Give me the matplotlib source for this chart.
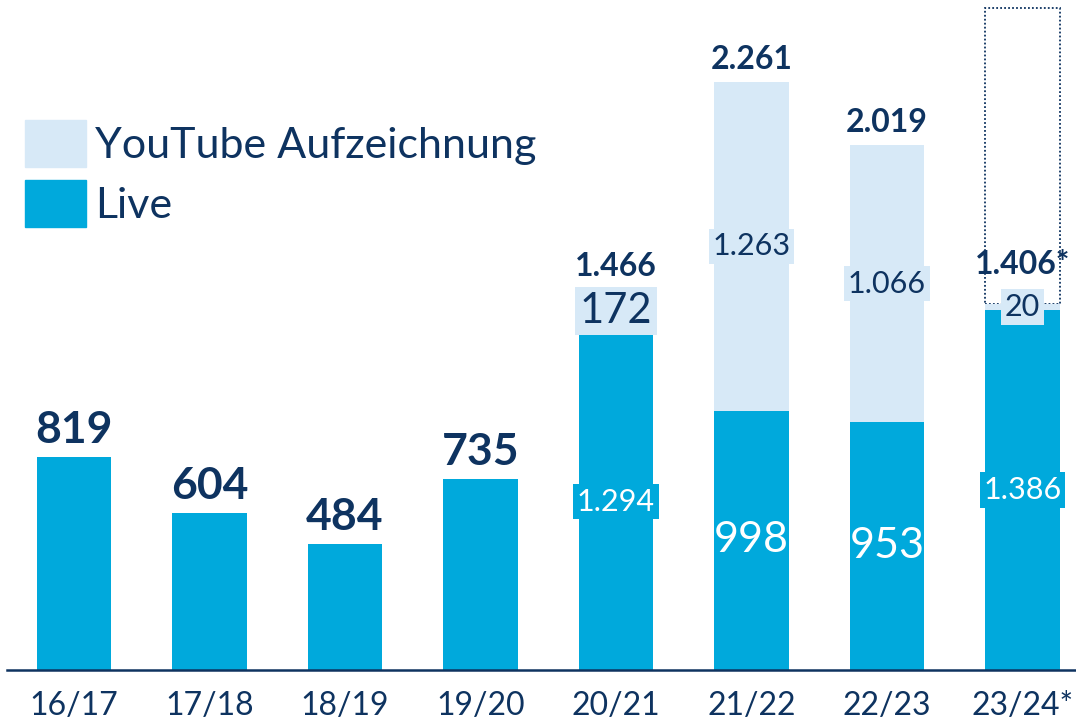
import matplotlib
matplotlib.use('Agg')
import numpy as np
import matplotlib.pyplot as plt
from matplotlib.patches import Patch

# data
seasons = ['16/17', '17/18', '18/19', '19/20', '20/21', '21/22', '22/23', '23/24*']
live = [819, 604, 484, 735, 1294, 998, 953, 1386]
youtube = [0, 0, 0, 0, 172, 1263, 1066, 20]
total_labels = ['819', '604', '484', '735', '1.466', '2.261', '2.019', '1.406*']
live_labels = ['', '', '', '', '1.294', '998', '953', '1.386']
yt_labels = ['', '', '', '', '172', '1.263', '1.066', '20']
expected_2324 = 2546   # dotted outline above the current season

LIVE_C = '#00A9DC'
YT_C = '#D7E9F7'
NAVY = '#0E3360'

plt.rcParams['font.family'] = ['Lato', 'DejaVu Sans']

fig = plt.figure(figsize=(10.76, 7.21), dpi=100)
ax = fig.add_axes([0.0065, 0.0707, 0.9935, 0.9293])

x = np.arange(len(seasons))
w = 0.55
live = np.array(live)
youtube = np.array(youtube)
tot = live + youtube

ax.bar(x, live, w, color=LIVE_C, zorder=2)
ax.bar(x, youtube, w, bottom=live, color=YT_C, zorder=2)
# dotted outline for the running season
ax.bar(x[-1], expected_2324 - tot[-1], w, bottom=tot[-1], fill=False,
       edgecolor=NAVY, linestyle=(0, (1, 1.2)), linewidth=1.3, zorder=1)

# value labels
for i in range(len(seasons)):
    if youtube[i] == 0:
        ax.annotate(total_labels[i], (x[i], tot[i]), xytext=(0, 5),
                    textcoords='offset points', ha='center', va='bottom',
                    fontsize=32, fontweight='bold', color=NAVY)
        continue
    off = 18 if i == len(seasons) - 1 else 6
    ax.annotate(total_labels[i], (x[i], tot[i]), xytext=(0, off),
                textcoords='offset points', ha='center', va='bottom',
                fontsize=23, fontweight='bold', color=NAVY)
    # live segment label
    if len(live_labels[i]) == 3:
        ax.text(x[i], live[i] / 2, live_labels[i], ha='center', va='center',
                fontsize=31, color='white', zorder=3)
    else:
        ax.text(x[i], live[i] / 2, live_labels[i], ha='center', va='center',
                fontsize=22, color='white', zorder=3,
                bbox=dict(boxstyle='square,pad=0.12', fc=LIVE_C, ec=LIVE_C, lw=0))
    # youtube segment label
    if len(yt_labels[i]) > 3 or yt_labels[i] == '20':
        ysize = 22
    else:
        ysize = 30
    ax.text(x[i], live[i] + youtube[i] / 2, yt_labels[i], ha='center',
            va='center', fontsize=ysize, color=NAVY, zorder=3,
            bbox=dict(boxstyle='square,pad=0.12', fc=YT_C, ec=YT_C, lw=0))

ax.set_xlim(-0.494, 7.395)
ax.set_ylim(0, 2577)
ax.set_xticks(x)
ax.set_xticklabels(seasons, fontsize=23, color=NAVY)
ax.tick_params(axis='x', length=0, pad=15)
ax.set_yticks([])
for s in ['top', 'left', 'right']:
    ax.spines[s].set_visible(False)
ax.spines['bottom'].set_color(NAVY)
ax.spines['bottom'].set_linewidth(1.8)

handles = [Patch(color=YT_C, label='YouTube Aufzeichnung'),
           Patch(color=LIVE_C, label='Live')]
ax.legend(handles=handles, loc='upper left', bbox_to_anchor=(0.005, 0.84),
          frameon=False, fontsize=31, labelcolor=NAVY, handlelength=1.42,
          handleheight=1.3, handletextpad=0.2, labelspacing=0.3,
          borderaxespad=0, borderpad=0.3)

fig.savefig('out.png', dpi=100)
